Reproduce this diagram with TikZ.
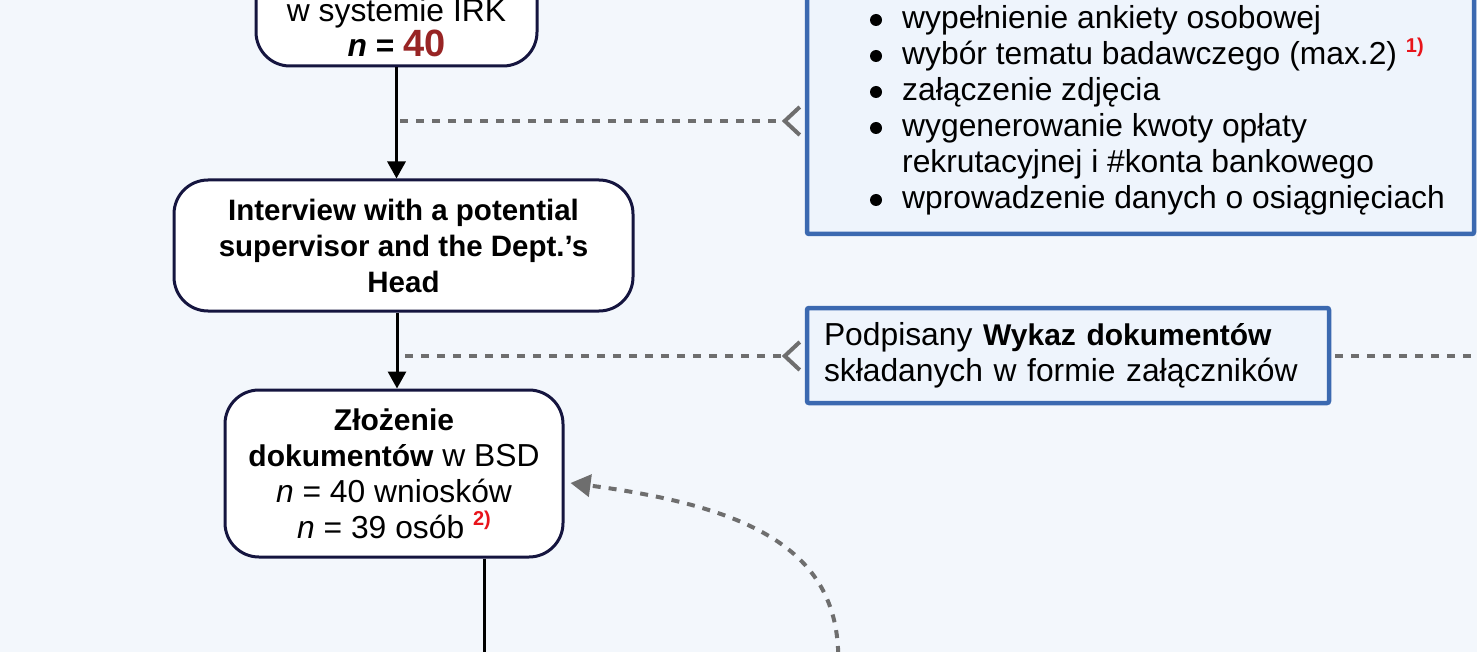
\documentclass[tikz,border=0pt]{standalone}
\usepackage{fontspec}
\setmainfont{Liberation Sans}
\usetikzlibrary{arrows.meta,calc}
\definecolor{bgcol}{HTML}{F3F7FC}
\definecolor{navy}{HTML}{15153F}
\definecolor{boxblue}{HTML}{3B69B0}
\definecolor{boxfill}{HTML}{EEF4FC}
\definecolor{dashgray}{HTML}{6E6E6E}
\definecolor{darkred}{HTML}{982424}
\definecolor{fnred}{HTML}{E8141B}
\newcommand\fnmark[1]{\raisebox{0.75ex}{\fontsize{20}{20}\selectfont\bfseries\textcolor{fnred}{#1}}}
\begin{document}
\begin{tikzpicture}[x=1pt,y=-1pt,
  every node/.style={font=\fontsize{31.8}{36}\selectfont, inner sep=0pt},
  procbox/.style={draw=navy, line width=3pt, fill=white, rounded corners=34pt, align=center},
  infobox/.style={draw=boxblue, line width=4.5pt, fill=boxfill, rounded corners=2pt},
  flow/.style={draw=black, line width=3pt, -{Triangle[length=17pt,width=18pt]}},
  dashline/.style={draw=dashgray, line width=4pt, dash pattern=on 8pt off 8pt},
  chev/.style={draw=dashgray, line width=4pt},
  bul/.style={circle, fill=black, minimum size=12pt}
]
\useasboundingbox (0,0) rectangle (1477,652);
\clip (0,0) rectangle (1477,652);
\fill[bgcol] (0,0) rectangle (1477,652);

% top box (cut off)
\node[procbox, minimum width=281pt, minimum height=150pt] (A) at (396.5,-9) {};
\node[anchor=base] (A1) at (396.5,22) {w systemie IRK};
\node[anchor=base] (A2) at (396.5,57) {\textbf{\textit{n}} \textbf{=} {\fontsize{38}{38}\selectfont\bfseries\textcolor{darkred}{40}}};

\node[procbox, minimum width=459pt, minimum height=131pt, font=\fontsize{29.5}{36}\selectfont\bfseries] (B) at (403.5,245.5)
  {Interview with a potential\\supervisor and the Dept.'s\\Head};

\node[procbox, minimum width=338pt, minimum height=167pt] (C) at (394,473.5)
  {{\fontsize{30}{36}\selectfont\bfseries Złożenie}\\{\fontsize{30}{36}\selectfont\bfseries dokumentów} w BSD\\\textit{n} = 40 wniosków\\\textit{n} = 39 osób \fnmark{2)}};

% right info box (cut off)
\node[infobox, minimum width=667pt, minimum height=310pt] (D) at (1140.5,79) {};
\node[bul] (b1) at (876,20) {};
\node[bul] (b2) at (876,56) {};
\node[bul] (b3) at (876,92) {};
\node[bul] (b4) at (876,128) {};
\node[bul] (b5) at (876,200) {};
\node[anchor=base west] (d1) at (902,29) {wypełnienie ankiety osobowej};
\node[anchor=base west] (d2) at (902,65) {wybór tematu badawczego (max.2) \fnmark{1)}};
\node[anchor=base west] (d3) at (902,101) {załączenie zdjęcia};
\node[anchor=base west] (d4) at (902,137) {wygenerowanie kwoty opłaty};
\node[anchor=base west] (d5) at (902,173) {rekrutacyjnej i \#konta bankowego};
\node[anchor=base west] (d6) at (902,209) {wprowadzenie danych o osiągnięciach};

\node[infobox, minimum width=522pt, minimum height=95pt, text width=488pt, align=left] (E) at (1068,355.5)
  {Podpisany {\fontsize{30}{36}\selectfont\bfseries Wykaz dokumentów}\\składanych w formie załączników};

% connectors
\draw[flow] (A.south) -- (A.south |- B.north);
\coordinate (ax) at (397,0);
\draw[flow] (B.south -| ax) -- (C.north -| ax);
\coordinate (c0) at (484,670);
\draw[line width=3pt] (C.south -| c0) -- (c0);

\coordinate (j1) at (400,121);
\draw[dashline] (j1) -- ($(D.west |- j1)+(-20,0)$);
\draw[chev] ($(D.west |- j1)+(-5,-14)$) -- ($(D.west |- j1)+(-20,0)$) -- ($(D.west |- j1)+(-5,14)$);

\coordinate (j2) at (405,356);
\draw[dashline] (j2) -- ($(E.west |- j2)+(-20,0)$);
\draw[chev] ($(E.west |- j2)+(-5,-14)$) -- ($(E.west |- j2)+(-20,0)$) -- ($(E.west |- j2)+(-5,14)$);

\coordinate (j3) at (1490,356);
\draw[dashline] ($(E.east |- j3)+(4,0)$) -- (j3);

\coordinate (k1) at (838,670);
\draw[dashline, -{Triangle[length=20pt,width=22pt]}] (k1) .. controls (844,555) and (760,508) .. ($(C.east)+(6,9.5)$);
\end{tikzpicture}
\end{document}
